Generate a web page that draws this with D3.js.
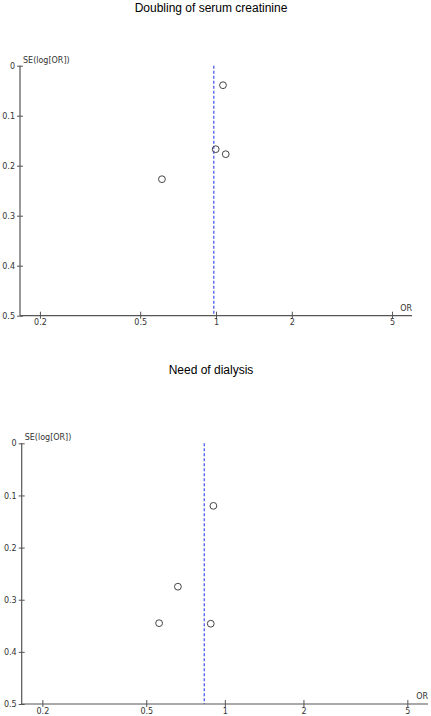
<!DOCTYPE html>
<html>
<head>
<meta charset="utf-8">
<script src="https://cdn.jsdelivr.net/npm/d3@7"></script>
<style>
  html, body { margin: 0; padding: 0; background: #fff; }
  svg { display: block; }
</style>
</head>
<body>
<div id="chart"></div>
<script>
// funnel plot data: odds ratio and SE(log[OR]) per study
const titles = ["Doubling of serum creatinine", "Need of dialysis"]
const creatinineOR = [1.066, 0.997, 1.093, 0.61]
const creatinineSE = [0.039, 0.167, 0.177, 0.227]
const dialysisOR = [0.904, 0.661, 0.56, 0.883]
const dialysisSE = [0.12, 0.275, 0.345, 0.346]
const pooledOR = [0.98, 0.834]
const xTicks = [0.2, 0.5, 1, 2, 5]
const yTicks = [0, 0.1, 0.2, 0.3, 0.4, 0.5]

const W = 431, H = 716
const svg = d3.select("#chart").append("svg")
  .attr("width", W).attr("height", H)

const panels = [
  { title: titles[0], or: creatinineOR, se: creatinineSE, pooled: pooledOR[0],
    titleY: 12, x0: 20, x1: 412, y0: 65.7, y1: 315.7 },
  { title: titles[1], or: dialysisOR, se: dialysisSE, pooled: pooledOR[1],
    titleY: 374, x0: 21.7, x1: 428, y0: 443.3, y1: 704 }
]

const axisColor = "#555"
const font = "'DejaVu Sans', Verdana, sans-serif"

panels.forEach(function(p){
  const x = d3.scaleLog().domain([1/6, 6]).range([p.x0, p.x1])
  const y = d3.scaleLinear().domain([0, 0.5]).range([p.y0, p.y1])
  const g = svg.append("g")

  g.append("text")
    .attr("x", 211)
    .attr("y", p.titleY)
    .attr("text-anchor", "middle")
    .style("font-family", "'Liberation Sans', Arial, sans-serif")
    .style("font-size", "12px")
    .style("fill", "#000")
    .text(p.title)

  // pooled estimate line
  g.append("line")
    .attr("x1", x(p.pooled)).attr("x2", x(p.pooled))
    .attr("y1", y(0)).attr("y2", y(0.5))
    .style("stroke", "#4a5cf0")
    .style("stroke-width", 1.3)
    .style("stroke-dasharray", "3,2")

  // y axis
  const ya = g.append("g").attr("transform", "translate(" + p.x0 + ",0)")
    .call(d3.axisLeft(y).tickValues(yTicks).tickSize(3).tickPadding(2)
      .tickFormat(d => d === 0 ? "0" : d3.format(".1f")(d)))
  ya.select(".domain").remove()
  ya.append("line").attr("y1", y(0)).attr("y2", y(0.5))
    .style("stroke", axisColor).style("stroke-width", 1.2)
  ya.selectAll(".tick line").attr("x1", -3).attr("x2", 3).style("stroke", axisColor)
  ya.selectAll(".tick text").style("font-family", font).style("font-size", "8px").style("fill", "#333")

  // x axis
  const xa = g.append("g").attr("transform", "translate(0," + p.y1 + ")")
    .call(d3.axisBottom(x).tickValues(xTicks).tickSize(3).tickPadding(1)
      .tickFormat(d3.format("")))
  xa.select(".domain").remove()
  xa.append("line").attr("x1", p.x0).attr("x2", p.x1)
    .style("stroke", axisColor).style("stroke-width", 1.2)
  xa.selectAll(".tick line").attr("y1", -4).attr("y2", 3).style("stroke", axisColor)
  xa.selectAll(".tick text").style("font-family", font).style("font-size", "8px").style("fill", "#333")

  g.append("text")
    .attr("x", p.x0 + 3).attr("y", p.y0 - 3)
    .style("font-family", font).style("font-size", "8px").style("fill", "#333")
    .text("SE(log[OR])")
  g.append("text")
    .attr("x", p.x1).attr("y", p.y1 - 5)
    .attr("text-anchor", "end")
    .style("font-family", font).style("font-size", "8px").style("fill", "#333")
    .text("OR")

  g.selectAll("circle")
    .data(d3.zip(p.or, p.se))
    .enter().append("circle")
    .attr("cx", d => x(d[0]))
    .attr("cy", d => y(d[1]))
    .attr("r", 3.4)
    .style("fill", "none")
    .style("stroke", "#444")
    .style("stroke-width", 1)
})
</script>
</body>
</html>
